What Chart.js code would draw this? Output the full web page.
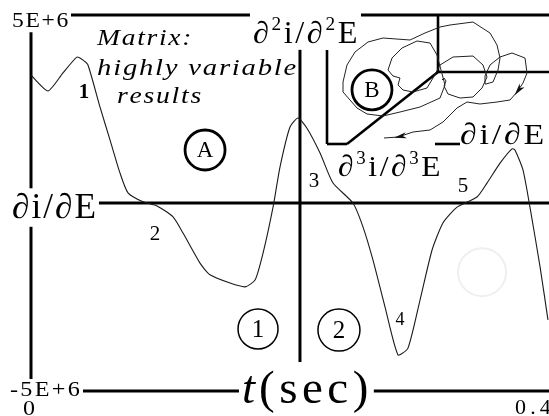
<!DOCTYPE html>
<html lang="en">
<head>
<meta charset="UTF-8">
<title>di/dE transient</title>
<script src="https://cdn.jsdelivr.net/npm/chart.js"></script>
<style>
    body { margin: 0; background: #fff; }
    canvas { display: block; }
</style>
</head>
<body>
<canvas id="graph" width="549" height="416"></canvas>
<script>
// main trace: di/dE against time
const timeSec = [0.0000, 0.0131, 0.0247, 0.0355, 0.0402, 0.0440, 0.0533, 0.0610, 0.0687, 0.0749,
                 0.0865, 0.0973, 0.1097, 0.1174, 0.1305, 0.1382, 0.1537, 0.1653, 0.1730, 0.1792,
                 0.1869, 0.1923, 0.2000, 0.2062, 0.2131, 0.2232, 0.2332, 0.2486, 0.2564, 0.2641,
                 0.2734, 0.2834, 0.2911, 0.3004, 0.3097, 0.3181, 0.3290, 0.3444, 0.3521, 0.3622,
                 0.3714, 0.3737, 0.3799, 0.3853, 0.3931, 0.3992];
const didE = [3.40e6, 2.98e6, 3.46e6, 3.88e6, 3.80e6, 3.67e6, 2.55e6, 1.68e6, 0.80e6, 0.27e6,
              0.03e6, -0.08e6, -0.37e6, -0.80e6, -1.60e6, -1.91e6, -2.13e6, -2.23e6, -2.05e6, -1.33e6,
              -0.11e6, 0.96e6, 2.02e6, 2.26e6, 1.99e6, 1.33e6, 0.53e6, 0.00e6, -0.64e6, -1.52e6,
              -2.77e6, -4.04e6, -3.86e6, -2.58e6, -1.25e6, -0.53e6, -0.11e6, 0.16e6, 0.53e6, 1.06e6,
              1.44e6, 1.41e6, 0.88e6, -0.11e6, -1.70e6, -3.11e6];

const tRange = [0, 0.4];
const yRange = [-5e6, 5e6];
const yTickLabels = ['5E+6', '-5E+6'];
const xTickLabels = ['0', '0.4'];
const tDivider = 0.2077;

// phase portrait (inset B): di/dE vs d2i/d2E, arbitrary units
const phaseX = [0.4, 0.6, 0.8, 0.6, 1.0, 2.2, 3.5, 4.4, 4.9, 4.5,
                3.5, 1.5, 0.2, -0.5, -1.1, -2.5, -3.5, -4.0, -3.8, -4.5,
                -5.0, -4.6, -3.6, -2.1, -0.8, -0.1, 0.3, 0.7, 0.2, -1.8,
                -3.8, -5.5, -7.1, -8.1, -8.8, -9.5, -9.5, -9.1, -8.3, -7.0,
                -5.5, -2.8, -1.3, 0.2, 1.2, 3.5, 5.2, 5.9, 6.2, 6.0,
                5.5, 4.8, 4.7, 5.2, 6.2, 7.4, 8.7, 8.9, 8.5, 7.9,
                7.2, 5.9, 4.2, 2.9, 1.9, 0.5, -0.8, -2.5, -4.0, -5.4];
const phaseY = [-0.8, -0.6, -0.9, -1.4, -2.2, -2.6, -2.5, -1.6, -0.5, 0.7,
                1.6, 1.5, 0.7, -0.6, -1.6, -2.0, -1.8, -1.3, -0.6, -0.4,
                0.2, 1.4, 2.4, 3.1, 2.9, 1.7, 0.2, -1.3, -2.6, -3.5,
                -4.0, -4.4, -4.2, -3.6, -2.8, -2.0, -1.0, 0.7, 2.0, 3.0,
                3.4, 3.2, 3.9, 4.5, 4.7, 5.0, 3.9, 2.7, 1.4, 0.2,
                -1.0, -1.2, -0.4, 0.7, 1.5, 1.9, 1.4, -0.1, -1.1, -2.0,
                -2.8, -3.0, -3.2, -3.0, -3.6, -5.0, -5.8, -6.0, -6.5, -6.6];
const phaseArrows = [59, 68];

const SERIF = '"Liberation Serif", "Times New Roman", serif';

function fontFor(p, size) {
    const s = Math.round((p.sup ? size * 0.6 : size) * 10) / 10;
    return (p.italic ? 'italic ' : '') + (p.bold ? 'bold ' : '') + s + 'px ' + SERIF;
}

function runWidth(ctx, parts, size) {
    let w = 0;
    parts.forEach(p => {
        ctx.font = fontFor(p, size);
        for (const ch of p.t) w += ctx.measureText(ch).width + (p.sp || 0);
        w += p.gap || 0;
    });
    return w;
}

// draws a run of text pieces (superscripts, spacing), optionally fitted to a width
function drawRun(ctx, parts, x, y, size, opts = {}) {
    const natural = runWidth(ctx, parts, size);
    const sx = opts.width ? opts.width / natural : 1;
    if (opts.bg) {
        const top = opts.bgTop !== undefined ? opts.bgTop : size * 0.85;
        const bot = opts.bgBottom !== undefined ? opts.bgBottom : size * 0.25;
        ctx.fillStyle = '#fff';
        ctx.fillRect(x - 3, y - top, natural * sx + 4, top + bot);
    }
    ctx.save();
    ctx.translate(x, y);
    ctx.scale(sx, 1);
    ctx.fillStyle = '#000';
    ctx.textAlign = 'left';
    ctx.textBaseline = 'alphabetic';
    let cx = 0;
    parts.forEach(p => {
        ctx.font = fontFor(p, size);
        const dy = p.sup ? -size * 0.4 : 0;
        for (const ch of p.t) {
            ctx.fillText(ch, cx, dy);
            cx += ctx.measureText(ch).width + (p.sp || 0);
        }
        cx += p.gap || 0;
    });
    ctx.restore();
}

function seg(ctx, x1, y1, x2, y2) {
    ctx.beginPath();
    ctx.moveTo(x1, y1);
    ctx.lineTo(x2, y2);
    ctx.stroke();
}

function ring(ctx, cx, cy, r, lw, text, size) {
    ctx.beginPath();
    ctx.arc(cx, cy, r, 0, Math.PI * 2);
    ctx.lineWidth = lw;
    ctx.strokeStyle = '#000';
    ctx.stroke();
    ctx.font = size + 'px ' + SERIF;
    ctx.fillStyle = '#000';
    ctx.textAlign = 'center';
    ctx.textBaseline = 'middle';
    ctx.fillText(text, cx, cy + 1);
}

// partial derivative label of order n
const dLabel = (n, sp) => n === 1
    ? [{ t: '∂i/∂E', sp }]
    : [{ t: '∂', sp }, { t: String(n), sup: true, sp }, { t: 'i/∂', sp }, { t: String(n), sup: true, sp }, { t: 'E', sp }];

const figurePlugin = {
    id: 'figure',
    beforeDatasetsDraw(chart) {
        const ctx = chart.ctx;
        const s = chart.scales;
        const X = v => s.x.getPixelForValue(v), Y = v => s.y.getPixelForValue(v);
        const PX = v => s.px.getPixelForValue(v), PY = v => s.py.getPixelForValue(v);
        ctx.save();
        ctx.strokeStyle = '#000';
        ctx.lineWidth = 3;
        // frame of the time plot
        seg(ctx, X(tRange[0]), Y(yRange[1]), X(tRange[0]), Y(yRange[0]));
        seg(ctx, X(tRange[0]), Y(yRange[1]), X(tRange[1]), Y(yRange[1]));
        seg(ctx, X(tRange[0]), Y(0), X(tRange[1]), Y(0));
        seg(ctx, X(tRange[0]), Y(yRange[0]), X(tRange[1]), Y(yRange[0]));
        seg(ctx, X(tDivider), Y(yRange[1]), X(tDivider), Y(yRange[0]));
        // inset axes
        ctx.lineWidth = 2.6;
        seg(ctx, PX(-11.1), PY(2.2), PX(-11.1), PY(-7.2));
        seg(ctx, PX(-11.1), PY(-7.2), PX(-9.1), PY(-7.2));
        seg(ctx, PX(-9.1), PY(-7.2), PX(0), PY(0));
        seg(ctx, PX(0), PY(0), PX(0), PY(5.7));
        seg(ctx, PX(0), PY(0), PX(11.1), PY(0));
        seg(ctx, PX(-0.3), PY(-7.2), PX(2.2), PY(-7.2));

        // tick labels sit in gaps cut out of the frame lines
        drawRun(ctx, [{ t: yTickLabels[0], sp: 1.5 }], X(0) - 19, Y(yRange[1]) + 12, 21, { width: 58, bg: true, bgTop: 17 });
        drawRun(ctx, [{ t: yTickLabels[1], sp: 2 }], X(0) - 21, Y(yRange[0]) + 5, 21, { width: 72, bg: true, bgTop: 17 });
        drawRun(ctx, [{ t: xTickLabels[0] }], X(tRange[0]) - 8, Y(yRange[0]) + 24, 22, { width: 12 });
        drawRun(ctx, [{ t: xTickLabels[1], sp: 4 }], X(tRange[1]) - 34, Y(yRange[0]) + 23, 21, { width: 40 });

        drawRun(ctx, dLabel(1, 2), X(-0.0147), Y(-0.40e6), 35, { width: 86, bg: true });
        drawRun(ctx, dLabel(2, 2.5), X(0.1714), Y(4.26e6), 31, { width: 107, bg: true, bgTop: 32, bgBottom: 7 });
        drawRun(ctx, [{ t: 't', italic: true, gap: 4 }, { t: '(sec)', sp: 4.5 }], X(0.1629), Y(-5.32e6), 47, { bg: true, bgTop: 41 });
        ctx.restore();
    },
    afterDatasetsDraw(chart) {
        const ctx = chart.ctx;
        const s = chart.scales;
        const X = v => s.x.getPixelForValue(v), Y = v => s.y.getPixelForValue(v);
        const PX = v => s.px.getPixelForValue(v), PY = v => s.py.getPixelForValue(v);
        ctx.save();

        // inset labels
        drawRun(ctx, dLabel(3, 2.5), X(0.2371), Y(0.72e6), 30, { width: 105 });
        drawRun(ctx, dLabel(1, 2.5), X(0.3313), Y(1.57e6), 30, { width: 87 });

        // arrowheads along the phase trajectory
        phaseArrows.forEach(i => {
            const x0 = PX(phaseX[i - 1]), y0 = PY(phaseY[i - 1]);
            const x1 = PX(phaseX[i + 1]), y1 = PY(phaseY[i + 1]);
            const xm = PX(phaseX[i]), ym = PY(phaseY[i]);
            const a = Math.atan2(y1 - y0, x1 - x0);
            ctx.beginPath();
            ctx.moveTo(xm + Math.cos(a) * 4, ym + Math.sin(a) * 4);
            ctx.lineTo(xm - Math.cos(a - 0.35) * 9, ym - Math.sin(a - 0.35) * 9);
            ctx.lineTo(xm - Math.cos(a) * 5, ym - Math.sin(a) * 5);
            ctx.lineTo(xm - Math.cos(a + 0.35) * 9, ym - Math.sin(a + 0.35) * 9);
            ctx.closePath();
            ctx.fillStyle = '#111';
            ctx.fill();
        });

        // caption
        const cap = { italic: true, sp: 1.5 };
        drawRun(ctx, [{ t: 'Matrix:', ...cap }], X(0.0510), Y(4.20e6), 24, { width: 96 });
        drawRun(ctx, [{ t: 'highly variable', ...cap }], X(0.0510), Y(3.40e6), 24, { width: 201 });
        drawRun(ctx, [{ t: 'results', ...cap }], X(0.0664), Y(2.66e6), 24, { width: 86 });

        // region markers
        ring(ctx, X(0.1344), Y(1.41e6), 20, 2.8, 'A', 23);
        ring(ctx, X(0.2633), Y(3.01e6), 20, 2.8, 'B', 23);
        ring(ctx, X(0.1753), Y(-3.35e6), 20, 1.5, '1', 25);
        ring(ctx, X(0.2378), Y(-3.38e6), 21, 1.5, '2', 25);

        ctx.beginPath();
        ctx.arc(X(0.3483), Y(-1.84e6), 24, 0, Math.PI * 2);
        ctx.lineWidth = 2;
        ctx.strokeStyle = '#efefef';
        ctx.stroke();

        // numbered features on the trace
        const num = (txt, t, v, size, bold) => {
            ctx.font = (bold ? 'bold ' : '') + size + 'px ' + SERIF;
            ctx.fillStyle = '#000';
            ctx.textAlign = 'center';
            ctx.textBaseline = 'middle';
            ctx.fillText(txt, X(t), Y(v));
        };
        num('1', 0.0409, 2.93e6, 21, true);
        num('2', 0.0958, -0.85e6, 21, false);
        num('3', 0.2185, 0.56e6, 21, false);
        num('4', 0.2849, -3.11e6, 18, false);
        num('5', 0.3336, 0.43e6, 21, false);
        ctx.restore();
    }
};

new Chart(document.getElementById('graph'), {
    type: 'line',
    data: {
        datasets: [{
            data: timeSec.map((t, i) => ({ x: t, y: didE[i] })),
            xAxisID: 'x',
            yAxisID: 'y',
            borderColor: '#1a1a1a',
            borderWidth: 1.1,
            pointRadius: 0,
            tension: 0.2
        }, {
            data: phaseX.map((v, i) => ({ x: v, y: phaseY[i] })),
            xAxisID: 'px',
            yAxisID: 'py',
            borderColor: '#222',
            borderWidth: 1,
            pointRadius: 0,
            tension: 0
        }]
    },
    options: {
        responsive: false,
        animation: false,
        layout: { padding: { left: 31, top: 15, right: 0, bottom: 25 } },
        plugins: { legend: { display: false }, tooltip: { enabled: false } },
        scales: {
            x: { type: 'linear', min: tRange[0], max: tRange[1], display: false },
            y: { type: 'linear', min: yRange[0], max: yRange[1], display: false },
            px: { type: 'linear', axis: 'x', min: -40.7, max: 11.1, display: false },
            py: { type: 'linear', axis: 'y', min: -31.9, max: 5.7, display: false }
        }
    },
    plugins: [figurePlugin]
});
</script>
</body>
</html>
